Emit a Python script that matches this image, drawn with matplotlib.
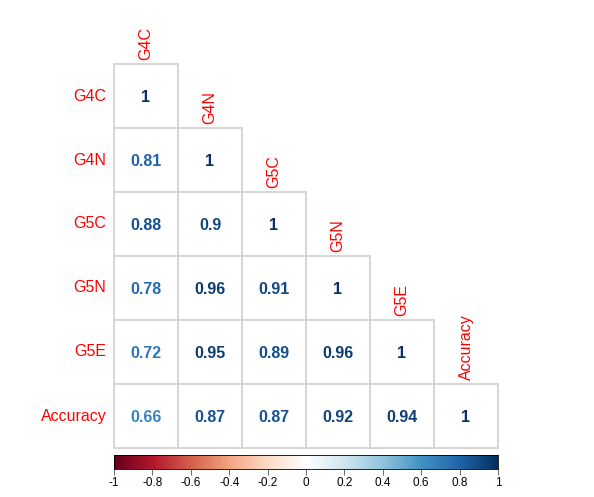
import numpy as np
import matplotlib.pyplot as plt
from matplotlib.colors import LinearSegmentedColormap
from matplotlib.patches import Rectangle

# ------------------------------------------------
# DATA
# ------------------------------------------------

labels = ['G4C', 'G4N', 'G5C', 'G5N', 'G5E', 'Accuracy']

# lower triangle, row by row
lower = [
    [1],
    [0.81, 1],
    [0.88, 0.9, 1],
    [0.78, 0.96, 0.91, 1],
    [0.72, 0.95, 0.89, 0.96, 1],
    [0.66, 0.87, 0.87, 0.92, 0.94, 1],
]

cbar_ticks = [-1, -0.8, -0.6, -0.4, -0.2, 0, 0.2, 0.4, 0.6, 0.8, 1]

# corrplot RdBu palette
pal = ["#67001F", "#B2182B", "#D6604D", "#F4A582", "#FDDBC7", "#FFFFFF",
       "#D1E5F0", "#92C5DE", "#4393C3", "#2166AC", "#053061"]
cmap = LinearSegmentedColormap.from_list('rdbu', pal, N=256)

plt.rcParams['font.family'] = ['Liberation Sans', 'DejaVu Sans']

W, H = 594, 497
fig = plt.figure(figsize=(W / 100, H / 100), dpi=100)

# ------------------------------------------------
# MATRIX
# ------------------------------------------------

n = len(labels)
ax = fig.add_axes([114 / W, (H - 448) / H, 384 / W, 384 / H])
ax.set_xlim(-0.5, n - 0.5)
ax.set_ylim(n - 0.5, -0.5)
ax.axis('off')

for i, row in enumerate(lower):
    for j, v in enumerate(row):
        ax.add_patch(Rectangle((j - 0.5, i - 0.5), 1, 1, fc='white',
                               ec='#d6d6d6', lw=1.4, clip_on=False))
for i, row in enumerate(lower):
    for j, v in enumerate(row):
        txt = '%g' % v
        ax.text(j, i + 0.02, txt, ha='center', va='center', fontsize=11.5,
                fontweight='bold', color=cmap((v + 1) / 2))

for i, lab in enumerate(labels):
    ax.text(-0.62, i, lab, ha='right', va='center', fontsize=11.5,
            color='red', clip_on=False)
    ax.text(i, i - 0.56, lab, ha='center', va='bottom', rotation=90,
            fontsize=11.5, color='red', clip_on=False)

# ------------------------------------------------
# COLOR BAR
# ------------------------------------------------

cax = fig.add_axes([114 / W, (H - 469) / H, 384 / W, 14 / H])
grad = np.linspace(-1, 1, 400).reshape(1, -1)
cax.imshow(grad, cmap=cmap, aspect='auto', extent=[-1, 1, 0, 1], vmin=-1, vmax=1)
cax.set_xlim(-1, 1)
cax.set_yticks([])
cax.set_xticks(cbar_ticks)
cax.set_xticklabels(['%g' % t for t in cbar_ticks])
cax.tick_params(axis='x', length=4, width=0.6, colors='#555555', labelcolor='black',
                labelsize=8.5, pad=2)
for s in cax.spines.values():
    s.set_linewidth(0.6)

fig.savefig('out.png', dpi=100)
